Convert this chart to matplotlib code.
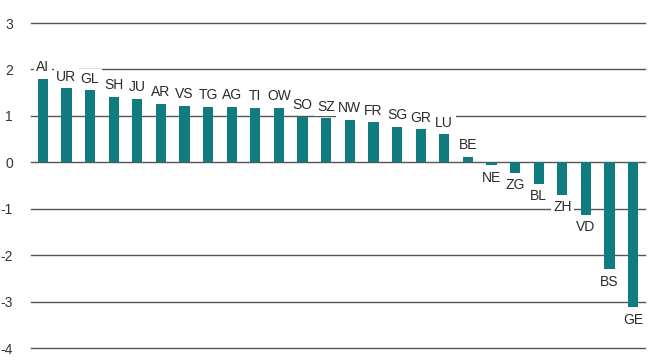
import matplotlib
matplotlib.use("Agg")
import matplotlib.pyplot as plt

cantons = ["AI", "UR", "GL", "SH", "JU", "AR", "VS", "TG", "AG", "TI", "OW", "SO", "SZ",
           "NW", "FR", "SG", "GR", "LU", "BE", "NE", "ZG", "BL", "ZH", "VD", "BS", "GE"]
values = [1.80, 1.59, 1.55, 1.41, 1.37, 1.26, 1.22, 1.19, 1.19, 1.17, 1.17, 0.98, 0.95,
          0.91, 0.86, 0.76, 0.71, 0.60, 0.12, -0.06, -0.22, -0.46, -0.70, -1.13, -2.30, -3.12]
yticks = [3, 2, 1, 0, -1, -2, -3, -4]

plt.rcParams['font.family'] = ['Liberation Sans', 'DejaVu Sans']

fig = plt.figure(figsize=(6.53, 3.64), dpi=100)
ax = fig.add_axes([31/653, 1-348/364, (645-31)/653, (348-23)/364])

teal = "#117c80"
grid = "#555555"
x = list(range(len(cantons)))
for t in yticks:
    ax.axhline(t, color=grid, lw=1.0, zorder=1, clip_on=False)
ax.bar(x, values, width=0.43, color=teal, zorder=2)

for xi, v, name in zip(x, values, cantons):
    if v >= 0:
        ax.text(xi, v + 0.10, name, ha="center", va="bottom", fontsize=10, color="#2a2a2a",
                zorder=3, bbox=dict(facecolor="white", edgecolor="none", pad=1.8))
    else:
        ax.text(xi, v - 0.12, name, ha="center", va="top", fontsize=10, color="#2a2a2a",
                zorder=3, bbox=dict(facecolor="white", edgecolor="none", pad=1.8))

ax.set_xlim(-0.5, len(cantons) - 0.5)
ax.set_ylim(-4, 3)
ax.set_yticks(yticks)
ax.set_yticklabels([str(t) for t in yticks], fontsize=10, color="#333333")
ax.tick_params(axis="y", length=0, pad=13)
ax.set_xticks([])
for s in ax.spines.values():
    s.set_visible(False)

fig.savefig("out.png", dpi=100)
